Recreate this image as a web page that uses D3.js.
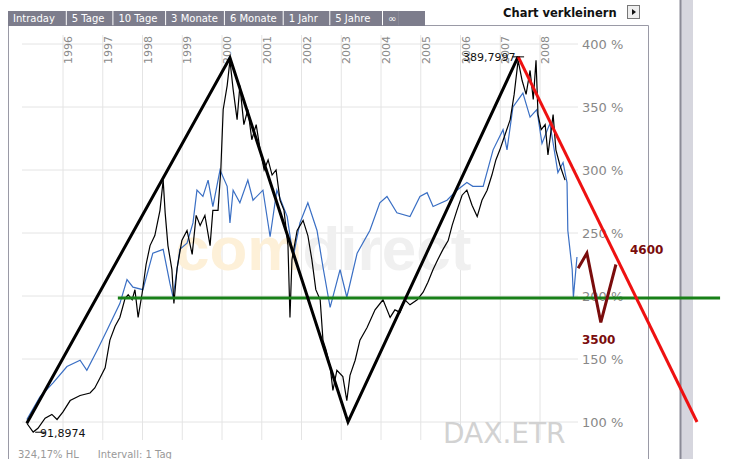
<!DOCTYPE html>
<html><head><meta charset="utf-8">
<script src="https://cdn.jsdelivr.net/npm/d3@7"></script>
<style>body{margin:0;background:#fff}</style>
</head><body><div id="chart"></div>
<script>
// [decimal year, percent]
const daxSeries = [[1995.09,99],[1995.25,92],[1995.37,95],[1995.55,103],[1995.72,106],[1995.85,102],[1996.0,108],[1996.18,117],[1996.43,121],[1996.68,123],[1996.8,127],[1996.93,135],[1997.06,143],[1997.18,165],[1997.31,176],[1997.43,183],[1997.56,198],[1997.64,201],[1997.74,197],[1997.81,205],[1997.89,183],[1997.99,202],[1998.09,225],[1998.19,240],[1998.31,248],[1998.44,268],[1998.52,292],[1998.57,266],[1998.64,240],[1998.74,221],[1998.79,194],[1998.87,222],[1998.99,244],[1999.12,252],[1999.25,233],[1999.35,264],[1999.45,256],[1999.57,264],[1999.7,240],[1999.77,268],[1999.9,268],[1999.97,300],[2000.03,348],[2000.13,367],[2000.2,387],[2000.28,364],[2000.38,340],[2000.45,367],[2000.55,336],[2000.65,348],[2000.75,324],[2000.86,336],[2000.96,316],[2001.06,300],[2001.16,308],[2001.26,296],[2001.36,300],[2001.46,276],[2001.56,268],[2001.66,240],[2001.71,183],[2001.76,229],[2001.89,252],[2002.04,260],[2002.16,248],[2002.26,229],[2002.36,205],[2002.47,197],[2002.54,165],[2002.62,157],[2002.72,144],[2002.79,125],[2002.89,141],[2003.04,136],[2003.14,117],[2003.22,137],[2003.35,149],[2003.47,165],[2003.65,175],[2003.85,189],[2004.05,197],[2004.23,183],[2004.35,189],[2004.48,187],[2004.6,197],[2004.73,193],[2004.91,197],[2005.06,203],[2005.18,211],[2005.31,221],[2005.43,229],[2005.56,237],[2005.69,244],[2005.79,256],[2005.91,268],[2006.04,280],[2006.16,284],[2006.29,272],[2006.42,263],[2006.54,276],[2006.67,284],[2006.79,296],[2006.89,308],[2006.99,316],[2007.12,328],[2007.25,340],[2007.35,360],[2007.45,387],[2007.55,371],[2007.65,360],[2007.75,379],[2007.83,356],[2007.9,387],[2007.95,344],[2008.03,332],[2008.13,336],[2008.2,312],[2008.33,344],[2008.4,316],[2008.5,304],[2008.63,292]];
const compSeries = [[1995.09,102],[1995.42,120],[1995.75,131],[1996.1,144],[1996.43,149],[1996.6,141],[1996.86,157],[1997.11,173],[1997.26,183],[1997.43,194],[1997.61,213],[1997.76,207],[1998.01,205],[1998.26,234],[1998.52,237],[1998.69,210],[1998.77,199],[1998.94,237],[1999.12,242],[1999.27,258],[1999.37,284],[1999.52,279],[1999.65,292],[1999.77,271],[1999.95,300],[2000.13,287],[2000.2,258],[2000.28,284],[2000.45,274],[2000.65,292],[2000.78,276],[2001.03,284],[2001.21,247],[2001.38,284],[2001.64,263],[2001.79,231],[2001.96,258],[2002.16,274],[2002.39,252],[2002.54,223],[2002.72,191],[2002.97,221],[2003.14,199],[2003.4,234],[2003.72,252],[2003.97,274],[2004.15,279],[2004.4,266],[2004.73,263],[2004.98,279],[2005.16,282],[2005.31,271],[2005.66,276],[2005.91,284],[2006.16,290],[2006.31,287],[2006.57,287],[2006.82,316],[2007.07,332],[2007.17,316],[2007.32,350],[2007.57,361],[2007.75,342],[2007.92,348],[2008.05,321],[2008.25,337],[2008.45,298],[2008.58,306],[2008.68,290],[2008.7,252],[2008.81,221],[2008.84,199],[2008.93,231]];
const zigzag = [[1995.09,99],[2000.2,389],[2003.17,100],[2007.45,390]];
const redTrend = [[2007.45,390],[2011.95,100]];
const greenSupport = [[1997.38,198.4],[2012.53,198.4]];
const forecast = [[2008.96,222],[2009.18,234],[2009.53,179],[2009.91,225]];
const years = [1996,1997,1998,1999,2000,2001,2002,2003,2004,2005,2006,2007,2008];
const yTicks = [100,150,200,250,300,350,400];
const tabs = ["Intraday","5 Tage","10 Tage","3 Monate","6 Monate","1 Jahr","5 Jahre","∞"];

const W = 733, H = 459;
const svg = d3.select("#chart").append("svg").attr("width", W).attr("height", H)
  .style("font-family", "Verdana, 'DejaVu Sans', sans-serif");

const x = d3.scaleLinear().domain([1996, 2008]).range([63, 540]);
const y = d3.scaleLinear().domain([100, 400]).range([422, 44]);

// right scroll bar
svg.append("rect").attr("x", 680).attr("y", 0).attr("width", 13).attr("height", H).attr("fill", "#d6d6de");
svg.append("line").attr("x1", 680.5).attr("x2", 680.5).attr("y1", 0).attr("y2", H).attr("stroke", "#8a8a96").attr("stroke-width", 2);

// frame
svg.append("path").attr("d", "M8.5,459V25.5H648.5V459").attr("fill", "none").attr("stroke", "#9a9aa6");

// tabs
let tx = 8;
const tabG = svg.append("g");
tabs.forEach(function(t){
  const w = t.length * 6.1 + 9;
  tabG.append("rect").attr("x", tx).attr("y", 11).attr("width", w).attr("height", 15).attr("fill", "#7d7d8c");
  tabG.append("text").attr("x", tx + 5).attr("y", 22).attr("fill", "#fff").attr("font-size", 10).text(t);
  tx += w + 1;
});
tabG.append("rect").attr("x", tx - 1).attr("y", 11).attr("width", 425 - tx + 1).attr("height", 15).attr("fill", "#7d7d8c");
svg.append("text").attr("x", 503).attr("y", 17).attr("font-size", 11.5).attr("font-weight", "bold").attr("fill", "#111").text("Chart verkleinern");
svg.append("rect").attr("x", 627.5).attr("y", 5.5).attr("width", 12).attr("height", 13).attr("fill", "#eee").attr("stroke", "#777");
svg.append("path").attr("d", "M632,9l4,3l-4,3z").attr("fill", "#111");

// grid
svg.append("g").selectAll("line").data(years).join("line")
  .attr("x1", d => x(d)).attr("x2", d => x(d)).attr("y1", 35).attr("y2", 440)
  .attr("stroke", "#e4e4e4");
svg.append("g").selectAll("line").data(yTicks).join("line")
  .attr("x1", 22).attr("x2", 578).attr("y1", d => y(d)).attr("y2", d => y(d))
  .attr("stroke", "#e4e4e4");
svg.append("g").selectAll("text").data(years).join("text")
  .attr("transform", d => "translate(" + (x(d) + 9) + ",64) rotate(-90)")
  .attr("font-size", 11).attr("fill", "#8a8a8a").text(d => d);
svg.append("g").selectAll("text").data(yTicks).join("text")
  .attr("x", 582).attr("y", d => y(d) + 5).attr("font-size", 13).attr("fill", "#888").text(d => d + " %");

// watermarks
const wm = svg.append("text").attr("x", 175).attr("y", 270).attr("font-size", 62).attr("font-weight", "bold")
  .attr("font-family", "'Liberation Sans', Arial, sans-serif");
wm.append("tspan").attr("fill", "#fdf0d8").text("com");
wm.append("tspan").attr("fill", "#f0f0f0").text("direct");
svg.append("text").attr("x", 443).attr("y", 443).attr("font-size", 28).attr("fill", "#d2d2d2").text("DAX.ETR");
svg.append("text").attr("x", 18).attr("y", 458).attr("font-size", 10).attr("fill", "#999").attr("xml:space", "preserve").text("324,17% HL      Intervall: 1 Tag");

const line = d3.line().x(d => x(d[0])).y(d => y(d[1]));

svg.append("path").datum(compSeries).attr("d", line).attr("fill", "none").attr("stroke", "#3a6fc4").attr("stroke-width", 1.2);
svg.append("path").datum(daxSeries).attr("d", line).attr("fill", "none").attr("stroke", "#000").attr("stroke-width", 1.2);

svg.append("path").datum(greenSupport).attr("d", line).attr("fill", "none").attr("stroke", "#188018").attr("stroke-width", 3);
svg.append("path").datum(zigzag).attr("d", line).attr("fill", "none").attr("stroke", "#000").attr("stroke-width", 3);
svg.append("path").datum(redTrend).attr("d", line).attr("fill", "none").attr("stroke", "#ee1111").attr("stroke-width", 3);
svg.append("path").datum(forecast).attr("d", line).attr("fill", "none").attr("stroke", "#7a0c0c").attr("stroke-width", 3);

// annotations
svg.append("text").attr("x", 630).attr("y", 254).attr("font-size", 12).attr("font-weight", "bold").attr("fill", "#7a0c0c").text("4600");
svg.append("text").attr("x", 582).attr("y", 344).attr("font-size", 12).attr("font-weight", "bold").attr("fill", "#7a0c0c").text("3500");
svg.append("line").attr("x1", x(2007.3)).attr("x2", x(2007.6)).attr("y1", y(389.8)).attr("y2", y(389.8)).attr("stroke", "#000");
svg.append("text").attr("x", 463).attr("y", 61).attr("font-size", 11).attr("fill", "#111").text("389,7997");
svg.append("line").attr("x1", x(1995.3)).attr("x2", x(1995.55)).attr("y1", y(91.9)).attr("y2", y(91.9)).attr("stroke", "#000");
svg.append("text").attr("x", 40).attr("y", 437).attr("font-size", 11).attr("fill", "#111").text("91,8974");
</script></body></html>
